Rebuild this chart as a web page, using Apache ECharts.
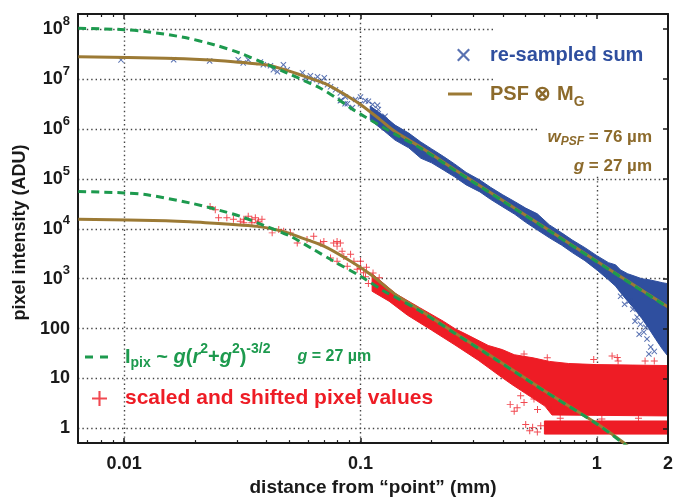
<!DOCTYPE html>
<html><head><meta charset="utf-8">
<script src="https://cdn.jsdelivr.net/npm/echarts@6/dist/echarts.min.js"></script>
<style>html,body{margin:0;padding:0;background:#fff}#c{width:676px;height:502px}</style>
</head><body><div id="c"></div>
<script>
// ---------- axis ranges and tick labels ----------
const xMin = 0.00638, xMax = 2;
const yMin = 0.508, yMax = 2.02e8;
const xTickValues = [0.01, 0.1, 1, 2];
const xTickLabels = ['0.01', '0.1', '1', '2'];
const yTickExponents = [0, 1, 2, 3, 4, 5, 6, 7, 8];

// ---------- fitted curves ----------
const brownUpX = [0.0064, 0.015, 0.022, 0.029, 0.036, 0.041, 0.05, 0.056, 0.07, 0.08, 0.09, 0.1, 0.12, 0.14, 0.18, 0.25, 0.4, 0.6, 1.0, 1.5, 2.0];
const brownUpY = [2.8e7, 2.63e7, 2.45e7, 2.24e7, 2.04e7, 1.9e7, 1.45e7, 1.2e7, 8.3e6, 6.0e6, 4.3e6, 3.1e6, 1.6e6, 8.9e5, 4.3e5, 1.55e5, 3.7e4, 1.07e4, 2240, 650, 270];
const greenUpX = [0.0064, 0.01, 0.0125, 0.0178, 0.024, 0.031, 0.039, 0.049, 0.068, 0.08, 0.093, 0.126, 0.14, 0.18, 0.25, 0.4, 0.6, 1.0, 1.5, 2.0];
const greenUpY = [1.05e8, 9.8e7, 8.9e7, 6.9e7, 4.9e7, 3.3e7, 2.1e7, 1.32e7, 6.5e6, 4.0e6, 2.45e6, 1.05e6, 7.9e5, 4.1e5, 1.5e5, 3.6e4, 1.05e4, 2200, 635, 265];
const brownLoX = [0.0064, 0.015, 0.019, 0.0365, 0.047, 0.055, 0.07, 0.088, 0.11, 0.14, 0.18, 0.25, 0.4, 0.6, 1.0, 1.35];
const brownLoY = [1.55e4, 1.45e4, 1.38e4, 1.12e4, 8.9e3, 6.9e3, 4.5e3, 2.45e3, 1.23e3, 490, 230, 83, 20, 5.7, 1.25, 0.45];
const greenLoX = [0.0064, 0.01, 0.0125, 0.019, 0.0263, 0.031, 0.039, 0.0505, 0.063, 0.077, 0.1, 0.126, 0.14, 0.18, 0.25, 0.4, 0.6, 1.0, 1.35];
const greenLoY = [5.6e4, 5.25e4, 4.8e4, 3.3e4, 2.24e4, 1.78e4, 1.17e4, 7.1e3, 3.9e3, 2.24e3, 1.12e3, 560, 430, 220, 81, 19.5, 5.6, 1.23, 0.43];

// ---------- dense blue cloud (envelope) ----------
const blueBandX  = [0.11, 0.126, 0.14, 0.16, 0.18, 0.2, 0.225, 0.25, 0.28, 0.32, 0.355, 0.4, 0.45, 0.5, 0.56, 0.63, 0.71, 0.79, 0.89, 1.0, 1.12, 1.2, 1.26, 1.35, 1.45, 1.55, 1.66, 1.78, 1.9, 2.0];
const blueBandLo = [1.51e6, 9.1e5, 6.0e5, 4.2e5, 2.6e5, 2.1e5, 1.5e5, 1.1e5, 7.6e4, 5.5e4, 3.9e4, 2.75e4, 1.95e4, 1.35e4, 9.5e3, 6.6e3, 4.7e3, 3.3e3, 2.3e3, 1.5e3, 950, 710, 525, 355, 240, 160, 100, 60, 38, 28];
const blueBandHi = [2.88e6, 1.82e6, 1.2e6, 8.3e5, 5.5e5, 4.0e5, 2.8e5, 2.0e5, 1.35e5, 9.5e4, 6.8e4, 4.8e4, 3.5e4, 2.6e4, 2.0e4, 1.2e4, 8.3e3, 5.9e3, 4.2e3, 2.9e3, 2.1e3, 1.9e3, 1.5e3, 1.26e3, 1.12e3, 1.0e3, 955, 890, 830, 795];

// ---------- dense red cloud (envelopes) ----------
const redTop = [[0.112, 1260], [0.141, 500], [0.178, 263], [0.224, 141], [0.251, 100], [0.282, 76], [0.347, 46], [0.398, 38], [0.447, 30], [0.537, 26], [0.631, 22], [0.759, 20], [1.0, 19], [1.41, 18.6], [2.0, 18.2]];
const redBottom = [[0.112, 560], [0.132, 355], [0.158, 186], [0.2, 93], [0.251, 47], [0.316, 23], [0.389, 11.2], [0.437, 7.6], [0.5, 5.0], [0.603, 2.8], [0.646, 1.86], [2.0, 1.78]];
const redLowBandTop = [[0.6, 1.41], [2.0, 1.41]];
const redLowBandBottom = [[0.6, 0.77], [2.0, 0.77]];

// ---------- individual (sparse) points ----------
const blueSparse = [[0.0097, 2.43e7], [0.0162, 2.45e7], [0.023, 2.3e7], [0.0304, 2.45e7], [0.0319, 2.1e7], [0.0335, 2.45e7], [0.0377, 2.2e7], [0.0388, 1.95e7], [0.0416, 1.85e7], [0.0428, 1.55e7], [0.0445, 1.4e7], [0.0472, 1.95e7], [0.049, 1.55e7], [0.0568, 1.35e7], [0.0585, 1.07e7], [0.0614, 1.17e7], [0.0627, 9.7e6], [0.0658, 1.12e7], [0.0677, 8.9e6], [0.0703, 1.07e7], [0.0725, 7.7e6], [0.0747, 7.0e6], [0.0784, 6.1e6], [0.0822, 5.3e6], [0.0863, 4.4e6], [0.0822, 3.7e6], [0.088, 3.2e6], [0.0953, 3.9e6], [0.1, 3.2e6], [0.105, 3.7e6], [0.1125, 3.1e6], [0.119, 2.45e6], [0.0925, 2.7e6], [0.127, 1.8e6], [0.1, 4.4e6], [0.108, 3.6e6], [0.118, 3.0e6], [0.083, 3.8e6], [0.086, 3.2e6],
  [1.42, 245], [1.48, 170], [1.53, 123], [1.58, 85], [1.63, 62], [1.69, 43], [1.75, 35], [1.51, 77], [1.61, 107], [1.37, 355], [1.45, 141], [1.66, 31], [1.26, 447], [1.31, 309]];
const redSparse = [[0.0231, 2.8e4], [0.0243, 2.4e4], [0.0251, 1.66e4], [0.0272, 1.66e4], [0.029, 1.55e4], [0.031, 1.42e4], [0.0321, 1.55e4], [0.0335, 1.78e4], [0.0347, 1.55e4], [0.0359, 1.66e4], [0.037, 1.42e4], [0.0366, 1.32e4], [0.0383, 1.55e4], [0.0321, 1.32e4], [0.0347, 1.32e4], [0.0423, 8.3e3], [0.0451, 9.7e3], [0.0473, 8.9e3], [0.0505, 8.3e3], [0.054, 5.2e3], [0.0594, 6.1e3], [0.0634, 7.1e3], [0.0677, 5.2e3], [0.07, 5.6e3], [0.077, 5.2e3], [0.0796, 4.5e3], [0.0822, 5.2e3], [0.0747, 2.6e3], [0.0796, 2.24e3], [0.085, 2.8e3], [0.0879, 1.78e3], [0.0938, 2.24e3], [0.1, 2.24e3], [0.0968, 1.55e3], [0.103, 1.32e3], [0.0908, 3.1e3], [0.0796, 5.6e3], [0.0836, 3.55e3],
  [0.105, 1.1e3], [0.108, 800], [0.1, 1.6e3], [0.106, 1.7e3], [0.113, 1.3e3], [0.12, 1.05e3], [0.125, 700],
  [0.447, 2.2], [0.476, 4.5], [0.492, 3.3], [0.542, 3.9], [0.535, 1.05], [0.561, 2.4], [0.638, 2.4], [0.579, 1.13], [0.492, 31], [1.22, 26.3], [0.617, 26], [0.97, 24], [1.23, 22.5], [1.16, 28.3], [1.6, 22.5], [1.75, 22.5], [0.7, 1.6], [1.05, 1.55], [1.5, 1.6], [0.5, 1.2], [0.52, 0.9], [0.56, 0.85], [0.43, 3.0], [0.46, 2.6]];

// ---------- styling ----------
const FONT = '"Liberation Sans", Arial, Helvetica, sans-serif';
const BLUE = '#2f4f9f', BROWN = '#9c7a35', BROWN_T = '#8c6a2b', GREEN = '#1d9a4e', RED = '#ee1c25', INK = '#1a1a1a';
const crossPath = 'path://M1.2,0L5,3.8L8.8,0L10,1.2L6.2,5L10,8.8L8.8,10L5,6.2L1.2,10L0,8.8L3.8,5L0,1.2Z';
const plusPath = 'path://M4.3,0H5.7V4.3H10V5.7H5.7V10H4.3V5.7H0V4.3H4.3Z';
const dashPath = 'path://M0,0H8V3H0Z M15,0H23V3H15Z';

const zip = (xs, ys) => xs.map((x, i) => [x, ys[i]]);

function fmtX(v) {
  const i = xTickValues.findIndex(t => Math.abs(v / t - 1) < 1e-6);
  return i < 0 ? '' : xTickLabels[i];
}
function fmtY(v) {
  const e = Math.round(Math.log10(v));
  if (Math.abs(v / Math.pow(10, e) - 1) > 1e-6 || yTickExponents.indexOf(e) < 0) return '';
  return e <= 2 ? String(Math.pow(10, e)) : '{b|10}{s|' + e + '}';
}

function polygonSeries(name, pts, color) {
  return {
    type: 'custom', name: name, coordinateSystem: 'cartesian2d', data: pts, encode: { x: 0, y: 1 },
    clip: true, silent: true, z: 2,
    renderItem: function (params, api) {
      if (params.dataIndex !== 0) return null;
      const coords = pts.map(p => api.coord(p));
      return { type: 'polygon', shape: { points: coords }, style: { fill: color, stroke: color, lineWidth: 1 } };
    }
  };
}

const bluePoly = zip(blueBandX, blueBandHi).concat(zip(blueBandX, blueBandLo).reverse());
const redPoly = redTop.concat(redBottom.slice().reverse());
const redLowPoly = redLowBandTop.concat(redLowBandBottom.slice().reverse());

const gridLine = { color: '#444', width: 1.4, type: [1.4, 3] };
const labelBase = { fontFamily: FONT, fontWeight: 'bold', color: INK };

const option = {
  animation: false,
  backgroundColor: '#fff',
  grid: { left: 78, right: 8, top: 14, bottom: 58, containLabel: false },
  xAxis: [
    {
      type: 'log', logBase: 10, min: xMin, max: xMax, position: 'bottom', z: 0,
      axisLine: { show: true, onZero: false, lineStyle: { color: INK, width: 2 } },
      axisTick: { show: true, inside: true, length: 5, lineStyle: { color: INK, width: 1.5 } },
      minorTick: { show: true, splitNumber: 9, length: 3, lineStyle: { color: INK, width: 1.2 } },
      splitLine: { show: true, showMinLine: false, showMaxLine: false, lineStyle: gridLine },
      axisLabel: Object.assign({ formatter: fmtX, fontSize: 18, margin: 12, showMinLabel: true, showMaxLabel: true }, labelBase),
      name: 'distance from \u201cpoint\u201d (mm)', nameLocation: 'middle', nameGap: 33,
      nameTextStyle: { fontFamily: FONT, fontWeight: 'bold', fontSize: 19, color: INK }
    },
    {
      type: 'log', logBase: 10, min: xMin, max: xMax, position: 'top', z: 5,
      axisLine: { show: true, onZero: false, lineStyle: { color: INK, width: 2 } },
      axisTick: { show: true, inside: true, length: 5, lineStyle: { color: INK, width: 1.5 } },
      minorTick: { show: true, splitNumber: 9, length: 3, lineStyle: { color: INK, width: 1.2 } },
      splitLine: { show: false }, axisLabel: { show: false }
    }
  ],
  yAxis: [
    {
      type: 'log', logBase: 10, min: yMin, max: yMax, position: 'left', z: 0,
      axisLine: { show: true, onZero: false, lineStyle: { color: INK, width: 2 } },
      axisTick: { show: false },
      splitLine: { show: true, showMinLine: false, showMaxLine: false, lineStyle: gridLine },
      axisLabel: Object.assign({
        formatter: fmtY, fontSize: 18, margin: 8,
        rich: {
          b: { fontFamily: FONT, fontWeight: 'bold', fontSize: 18, color: INK },
          s: { fontFamily: FONT, fontWeight: 'bold', fontSize: 13, color: INK, lineHeight: 13, padding: [0, 0, 16, 0] }
        }
      }, labelBase),
      name: 'pixel intensity (ADU)', nameLocation: 'middle', nameGap: 46,
      nameTextStyle: { fontFamily: FONT, fontWeight: 'bold', fontSize: 18, color: INK, padding: [0, 8, 0, 0] }
    },
    {
      type: 'log', logBase: 10, min: yMin, max: yMax, position: 'right', z: 5,
      axisLine: { show: true, onZero: false, lineStyle: { color: INK, width: 2 } },
      axisTick: { show: true, inside: true, length: 5, lineStyle: { color: INK, width: 1.5 } },
      splitLine: { show: false }, axisLabel: { show: false }
    }
  ],
  legend: [
    {
      data: [{ name: 're-sampled sum', icon: crossPath }], left: 457, top: 45, padding: 0,
      itemWidth: 13, itemHeight: 13, selectedMode: false, itemStyle: { borderWidth: 0 },
      formatter: () => '{t|re-sampled sum}',
      textStyle: { rich: { t: { fontFamily: FONT, fontWeight: 'bold', fontSize: 20, lineHeight: 24, color: BLUE, padding: [0, 0, 0, 15] } } }
    },
    {
      data: [{ name: 'PSF \u2297 MG', icon: 'rect' }], left: 448, top: 79, padding: 0,
      itemWidth: 24, itemHeight: 3, selectedMode: false, itemStyle: { borderWidth: 0 },
      formatter: () => '{t|PSF \u2297 M}{s|G}',
      textStyle: { rich: {
        t: { fontFamily: FONT, fontWeight: 'bold', fontSize: 20, lineHeight: 24, color: BROWN_T, padding: [0, 0, 0, 13] },
        s: { fontFamily: FONT, fontWeight: 'bold', fontSize: 14, lineHeight: 14, color: BROWN_T, padding: [16, 0, 0, 0] }
      } }
    },
    {
      data: [{ name: 'Ipix', icon: dashPath }], left: 85, top: 342, padding: 0,
      itemWidth: 23, itemHeight: 3, selectedMode: false, itemStyle: { borderWidth: 0 },
      formatter: () => '{i|I}{sub|pix}{t| ~ }{it|g}{t|(}{it|r}{sup|2}{t|+}{it|g}{sup|2}{t|)}{sup|-3/2}{it2|g}{t2| = 27 \u00b5m}',
      textStyle: { rich: {
        i: { fontFamily: FONT, fontWeight: 'bold', fontSize: 20, lineHeight: 24, color: GREEN, padding: [0, 0, 0, 12] },
        t: { fontFamily: FONT, fontWeight: 'bold', fontSize: 20, lineHeight: 24, color: GREEN },
        it: { fontFamily: FONT, fontWeight: 'bold', fontStyle: 'italic', fontSize: 20, lineHeight: 24, color: GREEN },
        sub: { fontFamily: FONT, fontWeight: 'bold', fontSize: 14, lineHeight: 14, color: GREEN, padding: [12, 0, 0, 0] },
        sup: { fontFamily: FONT, fontWeight: 'bold', fontSize: 14, lineHeight: 14, color: GREEN, padding: [0, 0, 16, 0] },
        it2: { fontFamily: FONT, fontWeight: 'bold', fontStyle: 'italic', fontSize: 16, lineHeight: 20, color: GREEN, padding: [0, 0, 0, 27] },
        t2: { fontFamily: FONT, fontWeight: 'bold', fontSize: 16, lineHeight: 20, color: GREEN }
      } }
    },
    {
      data: [{ name: 'scaled and shifted pixel values', icon: plusPath }], left: 92, top: 388, padding: 0,
      itemWidth: 15, itemHeight: 15, selectedMode: false, itemStyle: { borderWidth: 0 },
      formatter: () => '{t|scaled and shifted pixel values}',
      textStyle: { rich: { t: { fontFamily: FONT, fontWeight: 'bold', fontSize: 21, lineHeight: 25, color: RED, padding: [0, 0, 0, 13] } } }
    }
  ],
  graphic: [
    { type: 'rect', z: 1, silent: true, shape: { x: 493, y: 16, width: 173, height: 97 }, style: { fill: '#fff' } },
    { type: 'rect', z: 1, silent: true, shape: { x: 540, y: 113, width: 126, height: 63 }, style: { fill: '#fff' } },
    {
      type: 'text', z: 6, silent: true,
      style: {
        x: 652, y: 137, align: 'right', verticalAlign: 'middle', textAlign: 'right', textVerticalAlign: 'middle',
        text: '{w|w}{ps|PSF}{t| = 76 \u00b5m}',
        rich: {
          w: { fontFamily: FONT, fontWeight: 'bold', fontStyle: 'italic', fontSize: 17, lineHeight: 20, fill: BROWN_T },
          ps: { fontFamily: FONT, fontWeight: 'bold', fontStyle: 'italic', fontSize: 12, lineHeight: 12, fill: BROWN_T, padding: [10, 0, 0, 0] },
          t: { fontFamily: FONT, fontWeight: 'bold', fontSize: 17, lineHeight: 20, fill: BROWN_T }
        }
      }
    },
    {
      type: 'text', z: 6, silent: true,
      style: {
        x: 652, y: 166, align: 'right', verticalAlign: 'middle', textAlign: 'right', textVerticalAlign: 'middle',
        text: '{g|g}{t| = 27 \u00b5m}',
        rich: {
          g: { fontFamily: FONT, fontWeight: 'bold', fontStyle: 'italic', fontSize: 17, lineHeight: 20, fill: BROWN_T },
          t: { fontFamily: FONT, fontWeight: 'bold', fontSize: 17, lineHeight: 20, fill: BROWN_T }
        }
      }
    }
  ],
  series: [
    polygonSeries('blue cloud', bluePoly, BLUE),
    polygonSeries('red cloud', redPoly, RED),
    polygonSeries('red lower band', redLowPoly, RED),
    {
      type: 'scatter', name: 're-sampled sum', data: blueSparse, symbol: crossPath, symbolSize: 6, z: 2,
      itemStyle: { color: BLUE, borderWidth: 0 }, color: BLUE, silent: true
    },
    {
      type: 'scatter', name: 'scaled and shifted pixel values', data: redSparse, symbol: plusPath, symbolSize: 7, z: 2,
      itemStyle: { color: RED, borderWidth: 0 }, color: RED, silent: true
    },
    {
      type: 'line', name: 'PSF \u2297 MG', data: zip(brownUpX, brownUpY), smooth: 0.3, showSymbol: false, symbol: 'none', z: 3,
      color: BROWN, lineStyle: { color: BROWN, width: 3 }, itemStyle: { color: BROWN }, silent: true, clip: true
    },
    {
      type: 'line', name: 'PSF \u2297 MG', data: zip(brownLoX, brownLoY), smooth: 0.3, showSymbol: false, symbol: 'none', z: 3,
      color: BROWN, lineStyle: { color: BROWN, width: 3 }, itemStyle: { color: BROWN }, silent: true, clip: true
    },
    {
      type: 'line', name: 'Ipix', data: zip(greenUpX, greenUpY), smooth: 0.3, showSymbol: false, symbol: 'none', z: 4,
      color: GREEN, lineStyle: { color: GREEN, width: 3, type: [8, 5] }, itemStyle: { color: GREEN }, silent: true, clip: true
    },
    {
      type: 'line', name: 'Ipix', data: zip(greenLoX, greenLoY), smooth: 0.3, showSymbol: false, symbol: 'none', z: 4,
      color: GREEN, lineStyle: { color: GREEN, width: 3, type: [8, 5] }, itemStyle: { color: GREEN }, silent: true, clip: true
    }
  ]
};

const chart = echarts.init(document.getElementById('c'), null, { renderer: 'canvas' });
chart.setOption(option);
</script>
</body></html>
